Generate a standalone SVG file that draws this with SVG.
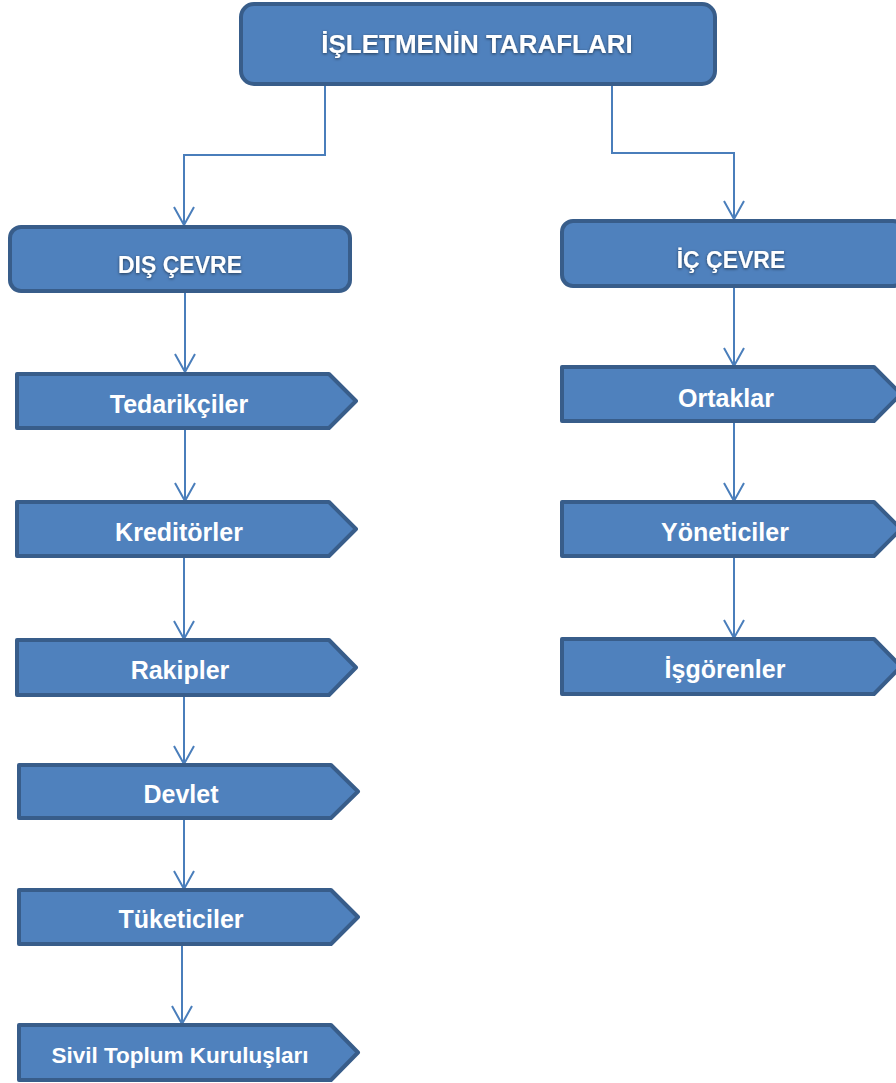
<svg xmlns="http://www.w3.org/2000/svg" width="896" height="1083" viewBox="0 0 896 1083">
<style>
.box{fill:#4f81bd;stroke:#385d8a;stroke-width:4;stroke-linejoin:round}
.t{font-family:"Liberation Sans",Arial,sans-serif;font-weight:bold;fill:#ffffff;text-anchor:middle}
.h{filter:url(#sh)}
.c{fill:none;stroke:#4a7ebb;stroke-width:2}
</style>
<defs>
<marker id="ar" viewBox="0 0 20 22" refX="19" refY="11" markerWidth="20" markerHeight="22" markerUnits="userSpaceOnUse" orient="auto">
<path d="M1,1 L19,11 L1,21" fill="none" stroke="#4a7ebb" stroke-width="2"/>
</marker>
<filter id="sh" x="-10%" y="-30%" width="120%" height="160%">
<feDropShadow dx="0" dy="1" stdDeviation="1.5" flood-color="#000" flood-opacity="0.55"/>
</filter>
</defs>
<g id="connectors">
<path class="c" d="M325,86 V155 H184 V225" marker-end="url(#ar)"/>
<path class="c" d="M612,86 V153 H734 V219" marker-end="url(#ar)"/>
<path class="c" d="M185,293 V372" marker-end="url(#ar)"/>
<path class="c" d="M185,430 V501" marker-end="url(#ar)"/>
<path class="c" d="M184,558 V639" marker-end="url(#ar)"/>
<path class="c" d="M184,697 V764" marker-end="url(#ar)"/>
<path class="c" d="M184,820 V889" marker-end="url(#ar)"/>
<path class="c" d="M182,946 V1024" marker-end="url(#ar)"/>
<path class="c" d="M734,288 V366" marker-end="url(#ar)"/>
<path class="c" d="M734,423 V501" marker-end="url(#ar)"/>
<path class="c" d="M734,558 V638" marker-end="url(#ar)"/>
</g>
<g id="root">
<rect class="box" x="241" y="4" width="474" height="80" rx="13"/>
<text class="t h" x="477" y="53" font-size="26">İŞLETMENİN TARAFLARI</text>
</g>
<g id="dis-cevre">
<rect class="box" x="10" y="227" width="340" height="64" rx="11"/>
<text class="t h" x="180" y="273" font-size="23">DIŞ ÇEVRE</text>
</g>
<g id="ic-cevre">
<rect class="box" x="562" y="221" width="342" height="65" rx="11"/>
<text class="t h" x="731" y="268" font-size="23">İÇ ÇEVRE</text>
</g>
<g id="tedarikciler">
<polygon class="box" points="17,374 329,374 356,401 329,428 17,428"/>
<text class="t" x="179" y="413" font-size="25">Tedarikçiler</text>
</g>
<g id="kreditorler">
<polygon class="box" points="17,502 329,502 356,529 329,556 17,556"/>
<text class="t" x="179" y="541" font-size="25">Kreditörler</text>
</g>
<g id="rakipler">
<polygon class="box" points="17,640 329,640 356,667.5 329,695 17,695"/>
<text class="t" x="180" y="679" font-size="25">Rakipler</text>
</g>
<g id="devlet">
<polygon class="box" points="19,765 331,765 358,791.5 331,818 19,818"/>
<text class="t" x="181" y="803" font-size="25">Devlet</text>
</g>
<g id="tuketiciler">
<polygon class="box" points="19,890 331,890 358,917 331,944 19,944"/>
<text class="t" x="181" y="928" font-size="25">Tüketiciler</text>
</g>
<g id="sivil-toplum">
<polygon class="box" points="19,1025 331,1025 358,1052.5 331,1080 19,1080"/>
<text class="t" x="180" y="1063" font-size="22.5">Sivil Toplum Kuruluşları</text>
</g>
<g id="ortaklar">
<polygon class="box" points="562,367 874,367 901,394 874,421 562,421"/>
<text class="t" x="726" y="407" font-size="25">Ortaklar</text>
</g>
<g id="yoneticiler">
<polygon class="box" points="562,502 874,502 901,529 874,556 562,556"/>
<text class="t" x="725" y="541" font-size="25">Yöneticiler</text>
</g>
<g id="isgorenler">
<polygon class="box" points="562,639 874,639 901,666.5 874,694 562,694"/>
<text class="t" x="725" y="678" font-size="25">İşgörenler</text>
</g>
</svg>
